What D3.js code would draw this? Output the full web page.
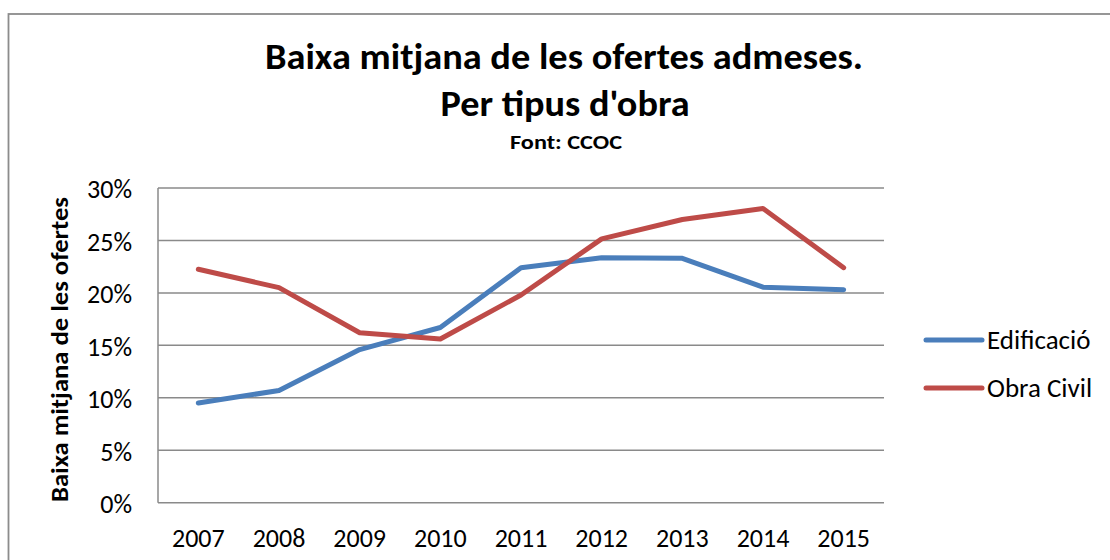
<!DOCTYPE html>
<html>
<head>
<meta charset="utf-8">
<script src="https://cdn.jsdelivr.net/npm/d3@7"></script>
<style>
  html, body { margin: 0; padding: 0; background: #fff; }
  svg { display: block; }
  text { font-family: Carlito, Calibri, Lato, "Open Sans", sans-serif; fill: #000; }
</style>
</head>
<body>
<svg id="chart" width="1110" height="560"></svg>
<script>
const years = ["2007","2008","2009","2010","2011","2012","2013","2014","2015"];
const edificacio = [9.5, 10.7, 14.6, 16.7, 22.4, 23.35, 23.3, 20.55, 20.3];
const obraCivil = [22.25, 20.5, 16.2, 15.6, 19.8, 25.15, 27.0, 28.05, 22.4];
const seriesNames = ["Edificació", "Obra Civil"];
const seriesColors = ["#4A7EBB", "#BE4B48"];
const yTicks = [0, 5, 10, 15, 20, 25, 30];
const titleLines = ["Baixa mitjana de les ofertes admeses.", "Per tipus d'obra"];
const subtitle = "Font: CCOC";
const yAxisTitle = "Baixa mitjana de les ofertes";

const svg = d3.select("#chart");
const plot = { left: 158, right: 884, top: 188, bottom: 502.7 };
const FONT = "Carlito, Calibri, Lato, sans-serif";

// outer frame
svg.append("rect")
  .attr("x", 8.5).attr("y", 14).attr("width", 1140).attr("height", 600)
  .attr("fill", "none").attr("stroke", "#8c8c8c").attr("stroke-width", 1.8);

const x = d3.scaleBand().domain(years).range([plot.left, plot.right]).padding(0);
const y = d3.scaleLinear().domain([0, 30]).range([plot.bottom, plot.top]);

// gridlines
svg.append("g").selectAll("line").data(yTicks).join("line")
  .attr("x1", plot.left).attr("x2", plot.right)
  .attr("y1", d => y(d)).attr("y2", d => y(d))
  .attr("stroke", "#8a8a8a").attr("stroke-width", 1.5);

// y axis line
svg.append("line")
  .attr("x1", plot.left).attr("x2", plot.left)
  .attr("y1", plot.top).attr("y2", plot.bottom)
  .attr("stroke", "#8a8a8a").attr("stroke-width", 1.5);

// y axis labels
const yAxis = d3.axisLeft(y).tickValues(yTicks).tickFormat(d => d + "%").tickSize(0).tickPadding(26);
const gy = svg.append("g").attr("transform", `translate(${plot.left},0)`).call(yAxis);
gy.select(".domain").remove();
gy.selectAll("text").attr("font-size", 26).attr("dy", "0.38em")
  .style("font-family", FONT).attr("fill", "#000");

// x axis labels
const xAxis = d3.axisBottom(x).tickSize(0).tickPadding(0);
const gx = svg.append("g").attr("transform", `translate(0,${plot.bottom})`).call(xAxis);
gx.select(".domain").remove();
gx.selectAll("text").attr("font-size", 26).attr("y", 44).attr("dy", 0)
  .style("font-family", FONT).attr("fill", "#000");

// lines
const line = d3.line().x((d, i) => x(years[i]) + x.bandwidth() / 2).y(d => y(d));
[edificacio, obraCivil].forEach((s, k) => {
  svg.append("path").datum(s)
    .attr("d", line).attr("fill", "none")
    .attr("stroke", seriesColors[k]).attr("stroke-width", 5)
    .attr("stroke-linecap", "round").attr("stroke-linejoin", "round");
});

// titles
svg.append("text").attr("x", 564).attr("y", 69).attr("text-anchor", "middle")
  .attr("font-size", 36).attr("font-weight", "bold")
  .attr("textLength", 598).attr("lengthAdjust", "spacingAndGlyphs").text(titleLines[0]);
svg.append("text").attr("x", 565).attr("y", 116).attr("text-anchor", "middle")
  .attr("font-size", 36).attr("font-weight", "bold")
  .attr("textLength", 249).attr("lengthAdjust", "spacingAndGlyphs").text(titleLines[1]);
svg.append("text").attr("x", 566).attr("y", 149).attr("text-anchor", "middle")
  .attr("font-size", 21).attr("font-weight", "bold")
  .attr("textLength", 112).attr("lengthAdjust", "spacingAndGlyphs").text(subtitle);

// y axis title
svg.append("text").attr("transform", "translate(68,349.5) rotate(-90)")
  .attr("text-anchor", "middle").attr("font-size", 24).attr("font-weight", "bold")
  .attr("textLength", 305).attr("lengthAdjust", "spacingAndGlyphs")
  .text(yAxisTitle);

// legend
const legY = [340, 388];
seriesNames.forEach((n, k) => {
  svg.append("line").attr("x1", 926).attr("x2", 982).attr("y1", legY[k]).attr("y2", legY[k])
    .attr("stroke", seriesColors[k]).attr("stroke-width", 5).attr("stroke-linecap", "round");
  svg.append("text").attr("x", 987).attr("y", legY[k]).attr("dy", "0.35em")
    .attr("font-size", 27).text(n);
});
</script>
</body>
</html>
